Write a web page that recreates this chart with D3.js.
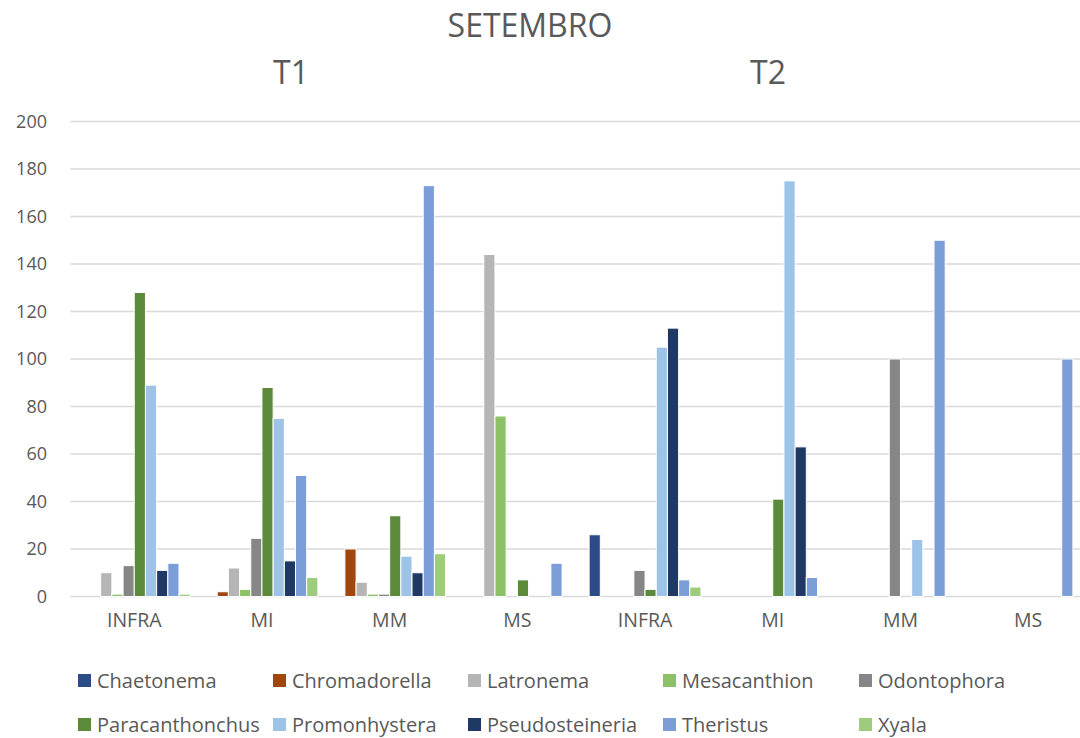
<!DOCTYPE html>
<html>
<head>
<meta charset="utf-8">
<script src="https://cdn.jsdelivr.net/npm/d3@7"></script>
<style>
  html, body { margin: 0; padding: 0; background: #fff; }
  svg { display: block; font-family: "Open Sans", "Liberation Sans", sans-serif; }
</style>
</head>
<body>
<svg id="chart" width="1080" height="738"></svg>
<script>
// Sampling sites, repeated for each transect
const categories = ["INFRA", "MI", "MM", "MS", "INFRA", "MI", "MM", "MS"];
const transects = ["T1", "T2"];
const yTicks = [0, 20, 40, 60, 80, 100, 120, 140, 160, 180, 200];

const genera = ["Chaetonema", "Chromadorella", "Latronema", "Mesacanthion", "Odontophora",
                "Paracanthonchus", "Promonhystera", "Pseudosteineria", "Theristus", "Xyala"];

// Abundance per genus, one value per site (T1 INFRA..MS, then T2 INFRA..MS)
const chaetonema      = [0, 0, 0, 0, 26, 0, 0, 0];
const chromadorella   = [0, 2, 20, 0, 0, 0, 0, 0];
const latronema       = [10, 12, 6, 144, 0, 0, 0, 0];
const mesacanthion    = [1, 3, 1, 76, 0, 0, 0, 0];
const odontophora     = [13, 24.5, 1, 0, 11, 0, 100, 0];
const paracanthonchus = [128, 88, 34, 7, 3, 41, 0, 0];
const promonhystera   = [89, 75, 17, 0, 105, 175, 24, 0];
const pseudosteineria = [11, 15, 10, 0, 113, 63, 0, 0];
const theristus       = [14, 51, 173, 14, 7, 8, 150, 100];
const xyala           = [1, 8, 18, 0, 4, 0, 0, 0];

const seriesValues = [chaetonema, chromadorella, latronema, mesacanthion, odontophora,
                      paracanthonchus, promonhystera, pseudosteineria, theristus, xyala];

const colors = ["#2B4C86", "#A0460F", "#B5B5B5", "#8CC168", "#868686",
                "#5B8A3A", "#9DC3E6", "#203864", "#7C9ED8", "#9ECB7C"];

const svg = d3.select("#chart");
const textColor = "#595959";

const W = 1080, H = 738;
const margin = { left: 70.4, right: -12, top: 121.5, bottom: 141.5 };
const plotBottom = H - margin.bottom;   // y of value 0
const plotRight = W - margin.right;     // the plot runs slightly past the canvas edge

// One band per site, split into one sub-band per genus
const x0 = d3.scaleBand()
  .domain(d3.range(categories.length))
  .range([margin.left, plotRight])
  .paddingInner(0.124)
  .paddingOuter(0.062);

const x1 = d3.scaleBand()
  .domain(d3.range(genera.length))
  .range([0, x0.bandwidth()]);

const y = d3.scaleLinear().domain([0, 200]).range([plotBottom, margin.top]);

// Horizontal gridlines
svg.append("g")
  .selectAll("line")
  .data(yTicks)
  .join("line")
  .attr("x1", margin.left)
  .attr("x2", W)
  .attr("y1", d => y(d))
  .attr("y2", d => y(d))
  .attr("stroke", "#d9d9d9")
  .attr("stroke-width", 1.3);

// Value axis labels
const yG = svg.append("g")
  .attr("transform", "translate(47,0)")
  .call(d3.axisLeft(y).tickValues(yTicks).tickSize(0).tickPadding(0));
yG.select(".domain").remove();
yG.selectAll("text")
  .attr("fill", textColor)
  .attr("font-size", 18)
  .attr("font-family", "\"Open Sans\", sans-serif");

// Clustered bars
const groups = svg.append("g")
  .selectAll("g")
  .data(d3.range(categories.length))
  .join("g")
  .attr("transform", i => `translate(${x0(i)},0)`);

groups.selectAll("rect")
  .data(i => seriesValues.map((vals, s) => ({ s, v: vals[i] })).filter(d => d.v > 0))
  .join("rect")
  .attr("x", d => x1(d.s))
  .attr("y", d => y(d.v))
  .attr("width", x1.bandwidth())
  .attr("height", d => plotBottom - y(d.v))
  .attr("fill", d => colors[d.s])
  .attr("stroke", "#ffffff")
  .attr("stroke-width", 1);

// Site labels
const xG = svg.append("g")
  .attr("transform", `translate(0,${plotBottom + 17})`)
  .call(d3.axisBottom(x0).tickFormat(i => categories[i]).tickSize(0).tickPadding(0));
xG.select(".domain").remove();
xG.selectAll("text")
  .attr("fill", textColor)
  .attr("font-size", 19.5)
  .attr("dy", "0.71em")
  .attr("font-family", "\"Open Sans\", sans-serif");

// Title and transect headings
svg.append("text")
  .attr("x", 530).attr("y", 37)
  .attr("text-anchor", "middle")
  .attr("font-size", 32)
  .attr("fill", textColor)
  .text("SETEMBRO");

svg.append("g")
  .selectAll("text")
  .data(transects)
  .join("text")
  .attr("x", (d, i) => [291, 768][i])
  .attr("y", 84)
  .attr("text-anchor", "middle")
  .attr("font-size", 32)
  .attr("fill", textColor)
  .text(d => d);

// Legend: two rows of five
const legendCols = [78, 273, 468, 663, 859];
const legendRows = [681, 725];
const leg = svg.append("g")
  .selectAll("g")
  .data(genera)
  .join("g")
  .attr("transform", (d, i) => `translate(${legendCols[i % 5]},${legendRows[Math.floor(i / 5)]})`);
leg.append("rect")
  .attr("x", 0).attr("y", -7)
  .attr("width", 13).attr("height", 13)
  .attr("fill", (d, i) => colors[i]);
leg.append("text")
  .attr("x", 19).attr("y", 0)
  .attr("dy", "0.35em")
  .attr("font-size", 20)
  .attr("fill", textColor)
  .text(d => d);
</script>
</body>
</html>
